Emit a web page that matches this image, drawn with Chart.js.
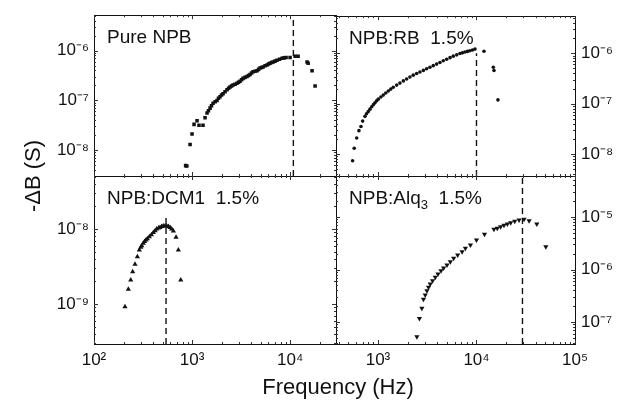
<!DOCTYPE html>
<html>
<head>
<meta charset="utf-8">
<script src="https://cdn.jsdelivr.net/npm/chart.js@4.4.1/dist/chart.umd.min.js"></script>
<style>
  html, body { margin: 0; padding: 0; background: #fff; }
  #wrap { position: relative; width: 621px; height: 403px; overflow: hidden; background: #fff; }
  canvas { position: absolute; left: 0; top: 0; }
</style>
</head>
<body>
<div id="wrap">
  <canvas id="tl" width="621" height="403"></canvas>
  <canvas id="tr" width="621" height="403"></canvas>
  <canvas id="bl" width="621" height="403"></canvas>
  <canvas id="br" width="621" height="403"></canvas>
</div>
<script>
// Pure NPB (squares)
const npbFreq = [860, 885, 955, 1000, 1048, 1125, 1178, 1294, 1357, 1423, 1470, 1527, 1580, 1638, 1720, 1799, 1860, 1930, 2000, 2071, 2170, 2274, 2360, 2441, 2530, 2619, 2750, 2877, 2980, 3088, 3200, 3313, 3470, 3638, 3770, 3905, 4050, 4190, 4400, 4603, 4770, 4940, 5110, 5300, 5560, 5820, 6030, 6250, 6480, 6710, 7030, 7360, 7800, 8280, 8700, 9100, 10000, 11250, 12070, 14900, 15280, 16760, 17990];
const npbDB = [4.9e-9, 4.8e-9, 1.30e-8, 2.12e-8, 3.3e-8, 3.9e-8, 3.16e-8, 3.16e-8, 4.5e-8, 5.6e-8, 6.2e-8, 7.0e-8, 7.8e-8, 8.75e-8, 9.4e-8, 1.0e-7, 1.1e-7, 1.19e-7, 1.28e-7, 1.36e-7, 1.5e-7, 1.63e-7, 1.75e-7, 1.86e-7, 1.95e-7, 2.03e-7, 2.12e-7, 2.22e-7, 2.32e-7, 2.43e-7, 2.6e-7, 2.77e-7, 2.9e-7, 3.03e-7, 3.17e-7, 3.31e-7, 3.55e-7, 3.77e-7, 3.85e-7, 3.95e-7, 4.2e-7, 4.5e-7, 4.6e-7, 4.7e-7, 4.95e-7, 5.15e-7, 5.4e-7, 5.6e-7, 5.75e-7, 5.9e-7, 6.15e-7, 6.4e-7, 6.7e-7, 7.0e-7, 7.15e-7, 7.3e-7, 7.3e-7, 7.7e-7, 7.7e-7, 5.9e-7, 5.6e-7, 3.95e-7, 1.94e-7];

// NPB:RB 1.5% (dots)
const rbFreq = [553, 574, 608, 641, 672, 699, 738, 765, 798, 830, 864, 900, 933, 970, 1007, 1070, 1132, 1200, 1273, 1350, 1430, 1550, 1671, 1810, 1955, 2110, 2281, 2470, 2667, 2890, 3119, 3370, 3641, 3940, 4257, 4600, 4979, 5390, 5813, 6300, 6797, 7200, 7636, 8100, 8581, 9100, 9658, 11910, 14820, 15060, 16520];
const rbDB = [7.4e-9, 1.31e-8, 2.09e-8, 2.92e-8, 3.52e-8, 4.52e-8, 5.61e-8, 6.3e-8, 6.97e-8, 7.8e-8, 8.67e-8, 9.6e-8, 1.045e-7, 1.14e-7, 1.23e-7, 1.36e-7, 1.48e-7, 1.63e-7, 1.78e-7, 1.95e-7, 2.12e-7, 2.34e-7, 2.56e-7, 2.83e-7, 3.09e-7, 3.38e-7, 3.68e-7, 3.96e-7, 4.25e-7, 4.58e-7, 4.92e-7, 5.3e-7, 5.69e-7, 6.1e-7, 6.56e-7, 7.1e-7, 7.6e-7, 8.2e-7, 8.78e-7, 9.3e-7, 9.87e-7, 1.02e-6, 1.06e-6, 1.09e-6, 1.125e-6, 1.16e-6, 1.21e-6, 1.10e-6, 5.28e-7, 4.57e-7, 1.19e-7];

// NPB:DCM1 1.5% (up triangles)
const dcmFreq = [207, 224, 237, 248, 262, 277, 290, 300, 307, 318, 328, 339, 350, 367, 385, 403, 420, 436, 455, 471, 490, 509, 530, 552, 575, 597, 620, 645, 687, 725, 767];
const dcmDB = [9.2e-10, 1.57e-9, 2.09e-9, 2.70e-9, 3.38e-9, 4.27e-9, 5.25e-9, 5.7e-9, 5.98e-9, 6.44e-9, 6.8e-9, 7.13e-9, 7.4e-9, 7.89e-9, 8.4e-9, 9.0e-9, 9.5e-9, 1.0e-8, 1.03e-8, 1.05e-8, 1.08e-8, 1.1e-8, 1.1e-8, 1.1e-8, 1.08e-8, 1.05e-8, 1.0e-8, 9.4e-9, 7.75e-9, 5.25e-9, 2.09e-9];

// NPB:Alq3 1.5% (down triangles)
const alqFreq = [2483, 2636, 2790, 2897, 3017, 3140, 3261, 3393, 3584, 3817, 4066, 4362, 4637, 5021, 5429, 5868, 6443, 7141, 7719, 8687, 10000, 12070, 15030, 16260, 17580, 19010, 20570, 22230, 24430, 27040, 30410, 34200, 40960, 50580];
const alqDB = [5.24e-8, 1.17e-7, 1.82e-7, 2.71e-7, 3.27e-7, 3.95e-7, 4.58e-7, 5.3e-7, 6.1e-7, 7.1e-7, 8.2e-7, 9.5e-7, 1.07e-6, 1.22e-6, 1.41e-6, 1.63e-6, 1.89e-6, 2.18e-6, 2.53e-6, 2.93e-6, 3.65e-6, 4.68e-6, 5.83e-6, 6.09e-6, 6.54e-6, 6.95e-6, 7.36e-6, 7.79e-6, 8.28e-6, 8.77e-6, 9.04e-6, 8.5e-6, 7.36e-6, 2.72e-6];

// dashed markers at the peak frequency (TL, TR, BL, BR) and the top of each line
const peakFreq = [10800, 10000, 543, 29300];
const peakTop = [5.15e-6, 1.0e-6, 1.4e-8, 6.04e-5];

// axis ranges
const xRangeLeft = [100, 29400];
const xRangeRight = [375, 100000];
const yRangeTL = [3.03e-9, 5.15e-6];
const yRangeTR = [3.68e-9, 5.44e-6];
const yRangeBL = [2.93e-10, 5.09e-8];
const yRangeBR = [3.81e-8, 6.04e-5];

// ticks and their labels
const xTicksLeft = [1e2, 1e3, 1e4];
const xLabelsLeft = ['10²', '10³', '10⁴'];
const xTicksRight = [1e3, 1e4, 1e5];
const xLabelsRight = ['10³', '10⁴', '10⁵'];
const yTicksTop = [1e-8, 1e-7, 1e-6];
const yLabelsTop = ['10⁻⁸', '10⁻⁷', '10⁻⁶'];
const yTicksBL = [1e-9, 1e-8];
const yLabelsBL = ['10⁻⁹', '10⁻⁸'];
const yTicksBR = [1e-7, 1e-6, 1e-5];
const yLabelsBR = ['10⁻⁷', '10⁻⁶', '10⁻⁵'];

const xTitle = 'Frequency (Hz)';
const yTitle = '-ΔB (S)';

const FONT = '"Liberation Sans", Arial, Helvetica, sans-serif';
const INK = '#111';

function pts(xs, ys) {
  return xs.map((x, i) => ({ x: x, y: ys[i] }));
}

// 1..9 x 10^k steps inside [min, max], for the little inward ticks
function logSteps(min, max) {
  const out = [];
  for (let k = Math.floor(Math.log10(min)); k <= Math.ceil(Math.log10(max)); k++) {
    for (let m = 1; m <= 9; m++) {
      const v = m * Math.pow(10, k);
      if (v >= min * 0.999 && v <= max * 1.001) out.push({ v: v, major: m === 1 });
    }
  }
  return out;
}

function logAxis(range, position, ticks, labels, size, showLabels, pad) {
  const vertical = position === 'left' || position === 'right';
  return {
    type: 'logarithmic',
    position: position,
    min: range[0],
    max: range[1],
    bounds: 'data',
    grid: { display: false, drawTicks: false },
    border: { display: false },
    afterBuildTicks: (scale) => { scale.ticks = ticks.map(v => ({ value: v })); },
    afterFit: (scale) => { if (vertical) scale.width = size; else scale.height = size; },
    ticks: {
      display: showLabels,
      padding: pad,
      color: INK,
      autoSkip: false,
      maxRotation: 0,
      font: { family: FONT, size: 17 },
      callback: (value, i) => labels[i]
    }
  };
}

// frame, inward ticks and the panel caption
const panelDeco = {
  id: 'panelDeco',
  afterDatasetsDraw(chart, args, opts) {
    const ctx = chart.ctx;
    const a = chart.chartArea;
    const xs = chart.scales.x, ys = chart.scales.y;
    ctx.save();
    ctx.strokeStyle = INK;
    ctx.lineWidth = 1;
    ctx.strokeRect(Math.round(a.left) + 0.5, Math.round(a.top) + 0.5,
      Math.round(a.right - a.left), Math.round(a.bottom - a.top));
    ctx.strokeStyle = '#333';
    ctx.beginPath();
    logSteps(xs.min, xs.max).forEach(s => {
      const p = Math.round(xs.getPixelForValue(s.v)) + 0.5;
      const len = s.major ? 4 : 2;
      ctx.moveTo(p, a.bottom); ctx.lineTo(p, a.bottom - len);
      ctx.moveTo(p, a.top); ctx.lineTo(p, a.top + len);
    });
    logSteps(ys.min, ys.max).forEach(s => {
      const p = Math.round(ys.getPixelForValue(s.v)) + 0.5;
      const len = s.major ? 4 : 2;
      ctx.moveTo(a.left, p); ctx.lineTo(a.left + len, p);
      ctx.moveTo(a.right, p); ctx.lineTo(a.right - len, p);
    });
    ctx.stroke();

    ctx.fillStyle = INK;
    ctx.textBaseline = 'alphabetic';
    ctx.textAlign = 'left';
    let x = a.left + 13;
    const y = a.top + 28;
    opts.parts.forEach(p => {
      if (p.sub) {
        ctx.font = '13px ' + FONT;
        ctx.fillText(p.text, x, y + 5);
      } else {
        ctx.font = '19px ' + FONT;
        ctx.fillText(p.text, x, y);
      }
      x += ctx.measureText(p.text).width;
    });
    ctx.restore();
  }
};

const figureTitles = {
  id: 'figureTitles',
  afterDraw(chart) {
    const ctx = chart.ctx;
    ctx.save();
    ctx.fillStyle = INK;
    ctx.font = '22px ' + FONT;
    ctx.textAlign = 'center';
    ctx.textBaseline = 'alphabetic';
    ctx.fillText(xTitle, 338, 394);
    ctx.translate(40, 176);
    ctx.rotate(-Math.PI / 2);
    ctx.fillText(yTitle, 0, 0);
    ctx.restore();
  }
};

function makePanel(id, cfg) {
  const peak = peakFreq[cfg.idx];
  return new Chart(document.getElementById(id), {
    type: 'scatter',
    data: {
      datasets: [
        {
          data: pts(cfg.freq, cfg.val),
          pointStyle: cfg.marker,
          pointRadius: cfg.radius,
          pointRotation: cfg.rotation || 0,
          pointBackgroundColor: INK,
          backgroundColor: INK,
          pointBorderWidth: 0,
          borderWidth: 0
        },
        {
          data: [{ x: peak, y: cfg.yRange[0] }, { x: peak, y: peakTop[cfg.idx] }],
          showLine: true,
          borderColor: INK,
          borderWidth: 1.4,
          borderDash: [6, 4],
          pointRadius: 0
        }
      ]
    },
    options: {
      responsive: false,
      animation: false,
      events: [],
      layout: { padding: cfg.padding },
      plugins: {
        legend: { display: false },
        tooltip: { enabled: false },
        panelDeco: { parts: cfg.caption }
      },
      scales: {
        x: logAxis(cfg.xRange, 'bottom', cfg.xTicks, cfg.xLabels, cfg.bottom ? 59 : 0, cfg.bottom, 6),
        y: logAxis(cfg.yRange, cfg.yPos, cfg.yTicks, cfg.yLabels, cfg.yPos === 'left' ? 94 : 46, true, cfg.yPos === 'left' ? 5 : 6)
      }
    },
    plugins: cfg.titles ? [panelDeco, figureTitles] : [panelDeco]
  });
}

makePanel('tl', {
  idx: 0, freq: npbFreq, val: npbDB, marker: 'rect', radius: 2.5,
  xRange: xRangeLeft, yRange: yRangeTL, xTicks: xTicksLeft, xLabels: xLabelsLeft,
  yTicks: yTicksTop, yLabels: yLabelsTop, yPos: 'left', bottom: false,
  padding: { left: 0, top: 8, right: 285, bottom: 227 },
  caption: [{ text: 'Pure NPB' }]
});
makePanel('tr', {
  idx: 1, freq: rbFreq, val: rbDB, marker: 'circle', radius: 1.8,
  xRange: xRangeRight, yRange: yRangeTR, xTicks: xTicksRight, xLabels: xLabelsRight,
  yTicks: yTicksTop, yLabels: yLabelsTop, yPos: 'right', bottom: false,
  padding: { left: 336, top: 8, right: 0, bottom: 227 },
  caption: [{ text: 'NPB:RB  1.5%' }]
});
makePanel('bl', {
  idx: 2, freq: dcmFreq, val: dcmDB, marker: 'triangle', radius: 3,
  xRange: xRangeLeft, yRange: yRangeBL, xTicks: xTicksLeft, xLabels: xLabelsLeft,
  yTicks: yTicksBL, yLabels: yLabelsBL, yPos: 'left', bottom: true,
  padding: { left: 0, top: 176, right: 285, bottom: 0 },
  caption: [{ text: 'NPB:DCM1  1.5%' }]
});
makePanel('br', {
  idx: 3, freq: alqFreq, val: alqDB, marker: 'triangle', radius: 3, rotation: 180,
  xRange: xRangeRight, yRange: yRangeBR, xTicks: xTicksRight, xLabels: xLabelsRight,
  yTicks: yTicksBR, yLabels: yLabelsBR, yPos: 'right', bottom: true,
  padding: { left: 336, top: 176, right: 0, bottom: 0 },
  caption: [{ text: 'NPB:Alq' }, { text: '3', sub: true }, { text: '  1.5%' }],
  titles: true
});
</script>
</body>
</html>
